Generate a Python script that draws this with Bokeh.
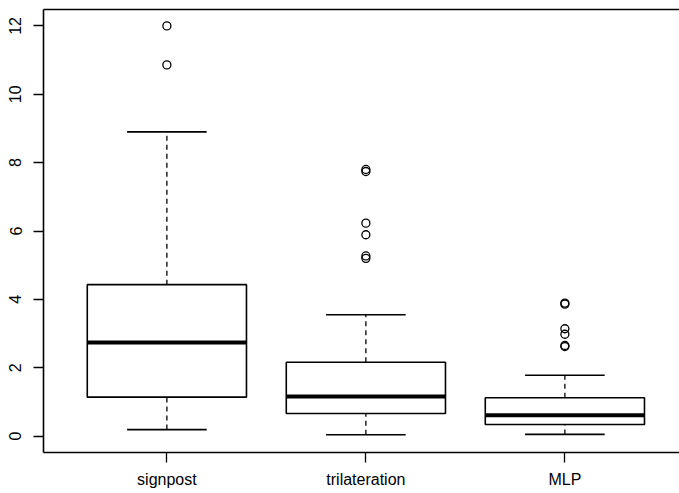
from bokeh.plotting import figure
from bokeh.models import FixedTicker, LinearAxis, Range1d
from bokeh.embed import file_html
from bokeh.resources import INLINE
import math

categories = ["signpost", "trilateration", "MLP"]
lower_whisker = [0.19, 0.04, 0.05]
q1 = [1.14, 0.66, 0.34]
median = [2.74, 1.16, 0.61]
q3 = [4.43, 2.16, 1.12]
upper_whisker = [8.90, 3.55, 1.78]
outliers = [
    [12.0, 10.86],
    [7.80, 7.74, 6.23, 5.89, 5.27, 5.20],
    [3.89, 3.86, 3.14, 2.98, 2.65, 2.62],
]

pos = [1, 2, 3]
half_box = 0.4
half_cap = 0.2

p = figure(width=679, height=493, output_backend="svg", toolbar_location=None,
           x_range=Range1d(0.38, 3.576), y_range=Range1d(-0.48, 12.48),
           x_axis_location="below")
p.min_border_left = 43
p.min_border_right = 0
p.min_border_top = 9
p.min_border_bottom = 41
p.outline_line_color = None
p.grid.visible = False
p.background_fill_color = "white"
p.border_fill_color = "white"

# whiskers (dashed)
p.segment(x0=pos, y0=q3, x1=pos, y1=upper_whisker, line_color="black", line_width=1.3, line_dash="5 4")
p.segment(x0=pos, y0=lower_whisker, x1=pos, y1=q1, line_color="black", line_width=1.3, line_dash="5 4")
# caps
p.segment(x0=[x - half_cap for x in pos], y0=upper_whisker, x1=[x + half_cap for x in pos], y1=upper_whisker,
          line_color="black", line_width=1.6)
p.segment(x0=[x - half_cap for x in pos], y0=lower_whisker, x1=[x + half_cap for x in pos], y1=lower_whisker,
          line_color="black", line_width=1.6)
# boxes
p.quad(left=[x - half_box for x in pos], right=[x + half_box for x in pos], bottom=q1, top=q3,
       fill_color="white", line_color="black", line_width=1.6)
# medians
p.segment(x0=[x - half_box for x in pos], y0=median, x1=[x + half_box for x in pos], y1=median,
          line_color="black", line_width=4)
# outliers
ox, oy = [], []
for x, vals in zip(pos, outliers):
    for v in vals:
        ox.append(x)
        oy.append(v)
p.scatter(ox, oy, marker="circle", size=8, fill_color=None, line_color="black", line_width=1.3)

font = "Liberation Sans"

xa = p.xaxis[0]
xa.ticker = FixedTicker(ticks=pos)
xa.major_label_overrides = {x: c for x, c in zip(pos, categories)}
ya = p.yaxis[0]
ya.ticker = FixedTicker(ticks=[0, 2, 4, 6, 8, 10, 12])
ya.major_label_orientation = "vertical"

for ax in (xa, ya):
    ax.axis_line_color = "black"
    ax.axis_line_width = 1.6
    ax.major_tick_line_color = "black"
    ax.major_tick_line_width = 1.3
    ax.major_tick_in = 0
    ax.major_tick_out = 10
    ax.minor_tick_line_color = None
    ax.major_label_text_font = font
    ax.major_label_text_font_size = "16px"
    ax.major_label_text_color = "black"
xa.major_label_standoff = 8
ya.major_label_standoff = 12

top = LinearAxis(ticker=FixedTicker(ticks=[]), axis_line_color="black", axis_line_width=1.6,
                 major_tick_line_color=None, minor_tick_line_color=None,
                 major_label_text_font_size="0px")
p.add_layout(top, "above")

open("out.html", "w").write(file_html(p, INLINE))
